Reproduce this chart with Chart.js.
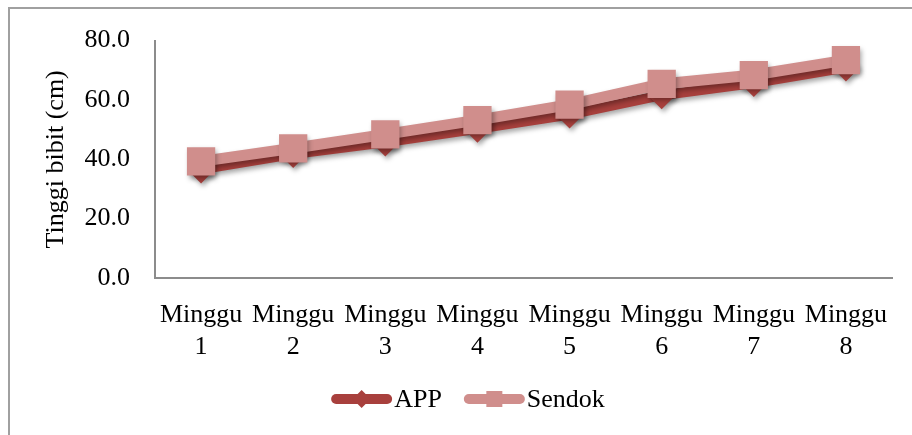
<!DOCTYPE html>
<html>
<head>
<meta charset="utf-8">
<script src="https://cdn.jsdelivr.net/npm/chart.js@4.4.0/dist/chart.umd.min.js"></script>
<style>
  html, body { margin: 0; padding: 0; background: #fff; }
  #wrap { position: relative; width: 912px; height: 435px; overflow: hidden; }
  #frame { position: absolute; left: 8px; top: 7px; width: 940px; height: 460px;
           border-left: 2px solid #a0a0a0; border-top: 2px solid #a0a0a0; }
  canvas { position: absolute; left: 0; top: 0; }
</style>
</head>
<body>
<div id="wrap">
  <div id="frame"></div>
  <canvas id="chart" width="912" height="435"></canvas>
</div>
<script>
const categories = [
  ["Minggu", "1"], ["Minggu", "2"], ["Minggu", "3"], ["Minggu", "4"],
  ["Minggu", "5"], ["Minggu", "6"], ["Minggu", "7"], ["Minggu", "8"],
];
const appValues = [36.6, 41.8, 45.7, 50.3, 55.1, 61.6, 65.7, 70.9];
const sendokValues = [39.3, 43.7, 48.4, 53.2, 58.4, 65.4, 68.4, 73.4];
const yTicks = [0, 20, 40, 60, 80];

const APP_COLOR = "#a8403d";
const SENDOK_COLOR = "#d08e8c";
const FONT = "'Liberation Serif', 'Times New Roman', serif";

// excel-ish drop shadow under the series
const shadowPlugin = {
  id: "shadow",
  beforeDatasetDraw(chart) {
    const ctx = chart.ctx;
    ctx.save();
    ctx.shadowColor = "rgba(0,0,0,0.35)";
    ctx.shadowBlur = 5;
    ctx.shadowOffsetX = 2;
    ctx.shadowOffsetY = 3;
  },
  afterDatasetDraw(chart) {
    chart.ctx.restore();
  },
};

// legend drawn as line + marker, like the spreadsheet one
const lineLegend = {
  id: "lineLegend",
  afterDraw(chart) {
    const ctx = chart.ctx;
    const items = [
      { text: "APP", color: APP_COLOR, marker: "diamond" },
      { text: "Sendok", color: SENDOK_COLOR, marker: "square" },
    ];
    ctx.save();
    ctx.font = "26px " + FONT;
    const lineW = 61, gap = 2, itemGap = 22;
    let total = 0;
    items.forEach((it, i) => {
      it.w = ctx.measureText(it.text).width;
      total += lineW + gap + it.w + (i ? itemGap : 0);
    });
    let x = 468 - total / 2;
    const y = 399;
    items.forEach((it) => {
      ctx.strokeStyle = it.color;
      ctx.fillStyle = it.color;
      ctx.lineWidth = 10;
      ctx.lineCap = "round";
      ctx.beginPath();
      ctx.moveTo(x + 5, y);
      ctx.lineTo(x + lineW - 5, y);
      ctx.stroke();
      const cx = x + lineW / 2;
      ctx.beginPath();
      if (it.marker === "diamond") {
        ctx.moveTo(cx, y - 9);
        ctx.lineTo(cx + 9, y);
        ctx.lineTo(cx, y + 9);
        ctx.lineTo(cx - 9, y);
        ctx.closePath();
      } else {
        ctx.rect(cx - 8, y - 8, 16, 16);
      }
      ctx.fill();
      ctx.fillStyle = "#000";
      ctx.textBaseline = "middle";
      ctx.textAlign = "left";
      ctx.fillText(it.text, x + lineW + gap, y + 1);
      x += lineW + gap + it.w + itemGap;
    });
    ctx.restore();
  },
};

new Chart(document.getElementById("chart"), {
  type: "line",
  data: {
    labels: categories,
    datasets: [
      {
        label: "APP",
        data: appValues,
        borderColor: APP_COLOR,
        backgroundColor: APP_COLOR,
        borderWidth: 10,
        pointStyle: "rectRot",
        pointRadius: 14,
        pointBorderWidth: 0,
        tension: 0,
        order: 1,
      },
      {
        label: "Sendok",
        data: sendokValues,
        borderColor: SENDOK_COLOR,
        backgroundColor: SENDOK_COLOR,
        borderWidth: 11,
        pointStyle: "rect",
        pointRadius: 20,
        pointBorderWidth: 0,
        tension: 0,
        order: 0,
      },
    ],
  },
  options: {
    responsive: false,
    animation: false,
    events: [],
    layout: { padding: { left: 0, top: 38, right: 17, bottom: 0 } },
    plugins: {
      legend: { display: false },
      tooltip: { enabled: false },
    },
    scales: {
      x: {
        offset: true,
        grid: { display: false, drawTicks: false, offset: true },
        border: { display: true, color: "#8c8c8c", width: 2 },
        ticks: {
          color: "#000",
          font: { family: FONT, size: 26, lineHeight: 1.2 },
          padding: 22,
          maxRotation: 0,
          autoSkip: false,
        },
        afterFit(scale) {
          scale.height = 435 - 278;
          scale.paddingLeft = 0;
          scale.paddingRight = 0;
        },
      },
      y: {
        min: 0,
        max: 80,
        afterBuildTicks(scale) { scale.ticks = yTicks.map((v) => ({ value: v })); },
        grid: { display: false, drawTicks: false },
        border: { display: true, color: "#8c8c8c", width: 2 },
        ticks: {
          color: "#000",
          font: { family: FONT, size: 26 },
          padding: 25,
          callback: (v) => Number(v).toFixed(1),
        },
        title: {
          display: true,
          text: "Tinggi bibit (cm)",
          color: "#000",
          font: { family: FONT, size: 26 },
          padding: { top: 41, bottom: 0 },
        },
        afterFit(scale) { scale.width = 155; },
      },
    },
  },
  plugins: [shadowPlugin, lineLegend],
});
</script>
</body>
</html>
